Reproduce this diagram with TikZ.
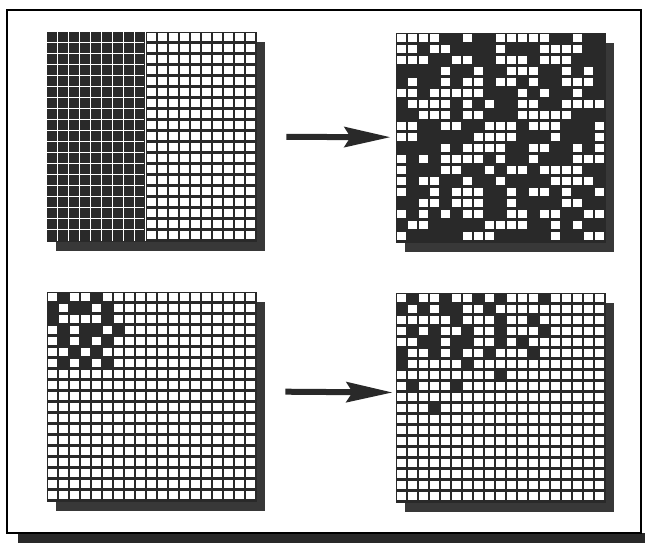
\documentclass[tikz,border=0pt]{standalone}
\usepackage{tikz}
\usetikzlibrary{arrows.meta, shadows}

\definecolor{ink}{gray}{0.16}
\definecolor{shade}{gray}{0.22}

% one white cell of a grid, at column #1 and row #2
\newcommand{\whitecell}[2]{\fill[white] (#1*11+1.1, #2*11+1.1) rectangle ++(8.8,8.8);}
% one dark cell, filling the whole pitch
\newcommand{\darkcell}[2]{\fill[ink] (#1*11, #2*11) rectangle ++(11,11);}

\begin{document}
\begin{tikzpicture}[
    x=1pt, y=-1pt,
    gridbox/.style={rectangle, draw=ink, fill=ink, line width=0.8pt, inner sep=0pt, minimum size=209pt,
      drop shadow={shadow xshift=9pt, shadow yshift=-10pt, fill=shade, opacity=1}},
    flowarrow/.style={-{Stealth[length=46pt, width=20pt, inset=6pt]}, line width=6pt, draw=ink},
    gapline/.style={white, line width=1.6pt}
  ]
  \useasboundingbox (0,0) rectangle (646,545);

  % frame with its shadow
  \fill[ink] (18,533) rectangle (645,543);
  \draw[line width=1.4pt, fill=white] (7,10) rectangle (641,533);

  \node[gridbox] (tl) at (151.5,136.5) {};
  \node[gridbox] (tr) at (500.5,137.5) {};
  \node[gridbox] (bl) at (151.5,396.5) {};
  \node[gridbox] (br) at (500.5,397.5) {};

  % half dark, half light
  \begin{scope}[shift={(tl.north west)}]
    \foreach \col in {9,...,18}
      \foreach \row in {0,...,18}
        {\whitecell{\col}{\row}}
    \foreach \k in {1,...,9}
      \draw[gapline] (\k*11-0.3,0) -- (\k*11-0.3,209);
    \foreach \k in {1,...,18}
      \draw[gapline] (0,\k*11) -- (97.5,\k*11);
  \end{scope}

  % mixed
  \begin{scope}[shift={(tr.north west)}]
    \pgfmathsetseed{1234}
    \foreach \col in {0,...,18}
      \foreach \row in {0,...,18} {
        \pgfmathtruncatemacro\keep{rnd<0.52}
        \ifnum\keep=1 \whitecell{\col}{\row}\fi
      }
  \end{scope}

  % small dark patch in the corner
  \begin{scope}[shift={(bl.north west)}]
    \foreach \col in {0,...,18}
      \foreach \row in {0,...,18}
        {\whitecell{\col}{\row}}
    \foreach \col/\row in {1/0,4/0, 0/1,2/1,3/1,5/1, 0/2,5/2, 1/3,3/3,4/3,6/3,
        1/4,3/4,5/4, 2/5,4/5, 1/6,3/6,5/6}
      {\darkcell{\col}{\row}}
  \end{scope}

  % the patch spread out
  \begin{scope}[shift={(br.north west)}]
    \foreach \col in {0,...,18}
      \foreach \row in {0,...,18}
        {\whitecell{\col}{\row}}
    \foreach \col/\row in {1/0,4/0,7/0,9/0,13/0, 0/1,2/1,4/1,5/1,8/1, 5/2,9/2,12/2,
        1/3,3/3,6/3,9/3,13/3, 2/4,3/4,5/4,6/4,9/4,11/4, 0/5,3/5,5/5,8/5,12/5,
        0/6,6/6, 9/7, 1/8,5/8, 3/10}
      {\darkcell{\col}{\row}}
  \end{scope}

  \draw[flowarrow, shorten <=30pt, shorten >=5pt] (tl) -- (tr);
  \draw[flowarrow, shorten <=29pt, shorten >=3pt] ([yshift=5pt]bl.east) -- ([yshift=5pt]br.west);

\end{tikzpicture}
\end{document}
